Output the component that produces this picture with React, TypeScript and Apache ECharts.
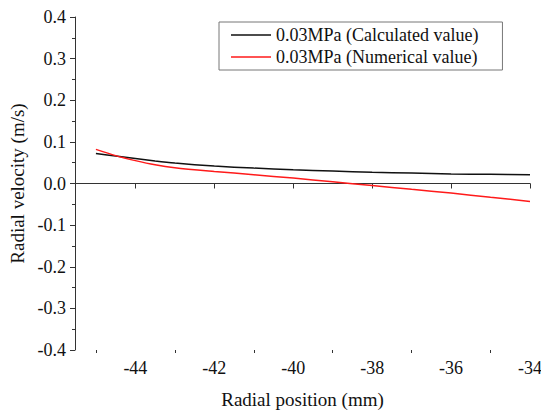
import React, { useEffect, useRef } from "react";
import * as echarts from "echarts";

const positions = [-45, -44.5, -44, -43.5, -43, -42, -41, -40, -39, -38, -37, -36, -35, -34];
const calculated = [0.072, 0.066, 0.06, 0.054, 0.049, 0.042, 0.037, 0.033, 0.03, 0.027, 0.025, 0.023, 0.022, 0.021];
const numerical = [0.082, 0.067, 0.055, 0.045, 0.038, 0.029, 0.021, 0.013, 0.004, -0.005, -0.014, -0.023, -0.033, -0.043];
const xMajorTicks = [-44, -42, -40, -38, -36, -34];
const xMinorTicks = [-45, -43, -41, -39, -37, -35];
const seriesNames = ["0.03MPa (Calculated value)", "0.03MPa (Numerical value)"];

const FONT = "Tinos, Liberation Serif";

export default function App() {
  const ref = useRef<HTMLDivElement>(null);
  useEffect(() => {
    if (!ref.current) return;
    const chart = echarts.init(ref.current, null, { renderer: "svg" });
    const pair = (ys: number[]) => positions.map((x, i) => [x, ys[i]]);
    chart.setOption({
      animation: false,
      backgroundColor: "#fff",
      textStyle: { fontFamily: FONT },
      grid: { left: 75, right: 11, top: 17, bottom: 60, outerBoundsMode: "none", containLabel: false },
      legend: {
        orient: "vertical",
        left: 219,
        top: 22,
        padding: [4, 24, 4, 12],
        itemGap: 4,
        itemWidth: 40,
        itemHeight: 20,
        borderColor: "#777",
        borderWidth: 1,
        textStyle: { fontFamily: FONT, fontSize: 18, color: "#111" },
        data: [
          { name: seriesNames[0], icon: "path://M0,9.3 L40,9.3 L40,10.7 L0,10.7 Z" },
          { name: seriesNames[1], icon: "path://M0,9.3 L40,9.3 L40,10.7 L0,10.7 Z" },
        ],
      },
      xAxis: [
        {
          type: "value",
          min: -45.53,
          max: -34,
          name: "Radial position (mm)",
          nameLocation: "middle",
          nameGap: 40,
          nameTextStyle: { fontFamily: FONT, fontSize: 19, color: "#111" },
          axisLine: { show: true, lineStyle: { color: "#333", width: 1 } },
          axisTick: { show: true, inside: false, length: 5, customValues: xMajorTicks, lineStyle: { color: "#333" } },
          axisLabel: { customValues: xMajorTicks, fontFamily: FONT, fontSize: 18, color: "#111", margin: 9 },
          splitLine: { show: false },
        },
        {
          type: "value",
          min: -45.53,
          max: -34,
          position: "bottom",
          axisLine: { show: false },
          axisTick: { show: true, length: 3, customValues: xMinorTicks, lineStyle: { color: "#333" } },
          axisLabel: { show: false },
          splitLine: { show: false },
        },
      ],
      yAxis: {
        type: "value",
        min: -0.4,
        max: 0.4,
        interval: 0.1,
        name: "Radial velocity (m/s)",
        nameLocation: "middle",
        nameGap: 48,
        nameTextStyle: { fontFamily: FONT, fontSize: 19, color: "#111" },
        axisLine: { show: true, lineStyle: { color: "#333", width: 1 } },
        axisTick: { show: true, length: 5, lineStyle: { color: "#333" } },
        minorTick: { show: true, splitNumber: 2, length: 3, lineStyle: { color: "#333" } },
        axisLabel: {
          fontFamily: FONT,
          fontSize: 18,
          color: "#111",
          margin: 9,
          formatter: (v: number) => v.toFixed(1),
        },
        splitLine: { show: false },
      },
      series: [
        {
          name: seriesNames[0],
          type: "line",
          data: pair(calculated),
          symbol: "none",
          smooth: 0.3,
          lineStyle: { color: "#111", width: 1.5 },
          itemStyle: { color: "#111" },
        },
        {
          name: seriesNames[1],
          type: "line",
          data: pair(numerical),
          symbol: "none",
          smooth: 0.3,
          lineStyle: { color: "#ff1a1a", width: 1.5 },
          itemStyle: { color: "#ff1a1a" },
        },
      ],
    });
    return () => chart.dispose();
  }, []);
  return <div ref={ref} style={{ width: 541, height: 410, position: "absolute", left: 0, top: 0 }} />;
}
